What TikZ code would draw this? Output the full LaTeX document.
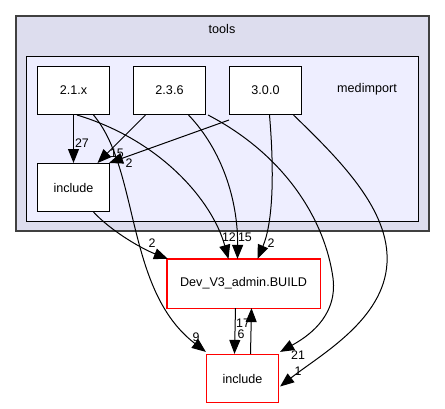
\documentclass[tikz,border=0pt]{standalone}
\usepackage{fontspec}
\setmainfont{Liberation Sans}
\usetikzlibrary{arrows.meta}
\definecolor{toolsfill}{HTML}{DDDDEE}
\definecolor{subfill}{HTML}{EEEEFF}
\definecolor{frame}{HTML}{404040}
\definecolor{extred}{HTML}{FF0000}
\begin{document}
\begin{tikzpicture}[x=1pt,y=-1pt,
  font=\fontsize{12.6}{14}\selectfont,
  dirbox/.style={draw=black,fill=white,line width=1pt,minimum width=72pt,minimum height=48pt,inner sep=0pt},
  extbox/.style={draw=extred,fill=white,line width=1.2pt,minimum height=48pt,inner sep=0pt},
  dep/.style={line width=1pt,-{Triangle[length=14pt,width=11pt]}},
  cnt/.style={inner sep=0pt,font=\fontsize{12.4}{13}\selectfont}]
\useasboundingbox (0,0) rectangle (445,408);
% clusters
\node[draw=frame,fill=toolsfill,line width=1.3pt,minimum width=413pt,minimum height=215pt,inner sep=0pt] (tools) at (222.5,123.5) {};
\node (toolslbl) at (222,29) {tools};
\node[draw=black,fill=subfill,line width=1pt,minimum width=392pt,minimum height=165pt,inner sep=0pt] (medimport) at (222,138.5) {};
\node (medlbl) at (367,89) {medimport};
% directories
\node[dirbox] (v21) at (73.5,90.5) {2.1.x};
\node[dirbox] (v236) at (169.5,90.5) {2.3.6};
\node[dirbox] (v300) at (265.5,90.5) {3.0.0};
\node[dirbox] (inc) at (73.5,187.5) {include};
% external directories (the frame of the first one is drawn as its own path)
\node[extbox,draw=none,minimum width=152pt] (dev) at (243.5,283.5) {Dev\textunderscore V3\textunderscore admin.BUILD};
\draw[extred,line width=1.2pt] (dev.north west) rectangle (dev.south east);
\node[extbox,minimum width=72pt] (incb) at (242.5,378.5) {include};
% dependencies inside medimport
\draw[dep] (v21.south) -- (inc.north);
\node[cnt] (l27) at (82,143) {27};
\draw[dep] ([xshift=-24pt]v236.south) -- ([xshift=24pt]inc.north);
\node[cnt] (l15a) at (117,153) {15};
\draw[dep] ([yshift=-5pt]v300.south west) -- ([xshift=-1pt]inc.north east);
\node[cnt] (l2a) at (129,163) {2};
% dependencies to Dev_V3_admin.BUILD
\draw[dep] ([xshift=20pt]inc.south) .. controls (110,230) and (140,248) .. ([xshift=1pt]dev.north west);
\node[cnt] (l2b) at (152,243) {2};
\draw[dep] ([xshift=40pt]v21.south west) .. controls (160,140) and (212,200) .. ([xshift=-15pt]dev.north);
\node[cnt] (l12) at (229,237) {12};
\draw[dep] ([xshift=19pt]v236.south) .. controls (222,150) and (238,200) .. ([xshift=-6pt]dev.north);
\node[cnt] (l15b) at (245,237) {15};
\draw[dep] ([xshift=4pt]v300.south) .. controls (275,180) and (272,225) .. ([xshift=14pt]dev.north);
\node[cnt] (l2c) at (271,243) {2};
% dependencies to the bottom include
\draw[dep] ([xshift=20pt]v21.south) .. controls (140,170) and (125,290) .. ([yshift=2pt]incb.north west);
\node[cnt] (l9) at (196,337) {9};
\draw[dep] ([xshift=2pt]v236.south east) .. controls (285,155) and (325,220) .. (333,278) .. controls (338,318) and (305,338) .. ([xshift=1pt,yshift=2pt]incb.north east);
\node[cnt] (l21) at (298,355) {21};
\draw[dep] ([xshift=28pt]v300.south) .. controls (340,160) and (390,210) .. (387,263) .. controls (384,320) and (320,355) .. ([xshift=1pt,yshift=-8pt]incb.east);
\node[cnt] (l1) at (298,371) {1};
% mutual dependency
\draw[dep] ([xshift=-8pt]dev.south) -- ([xshift=-8pt]incb.north);
\node[cnt] (l6) at (241,334) {6};
\draw[dep] ([xshift=8pt]incb.north) -- ([xshift=8pt]dev.south);
\node[cnt] (l17) at (243,323) {17};
\end{tikzpicture}
\end{document}
